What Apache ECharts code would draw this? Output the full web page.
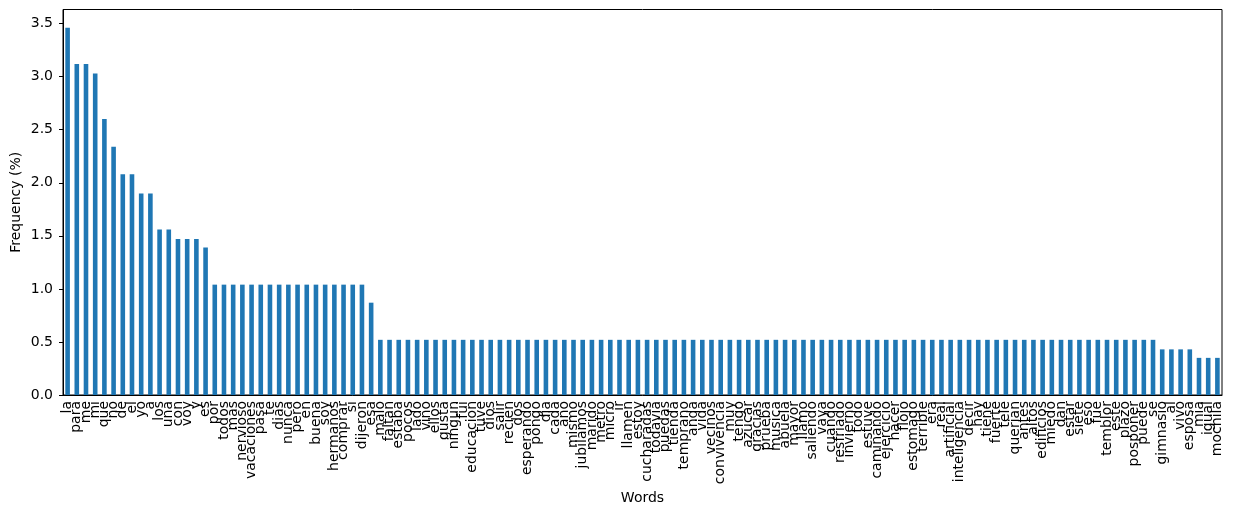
<!DOCTYPE html>
<html>
<head>
<meta charset="utf-8">
<script src="https://cdn.jsdelivr.net/npm/echarts@6/dist/echarts.min.js"></script>
<style>
  html, body { margin: 0; padding: 0; background: #fff; }
  #chart { width: 1236px; height: 516px; }
</style>
</head>
<body>
<div id="chart"></div>
<script>
const words = [
  'la', 'para', 'me', 'mi', 'que', 'no', 'de', 'el', 'yo', 'a',
  'los', 'una', 'con', 'voy', 'y', 'es', 'por', 'todos', 'mas', 'nervioso',
  'vacaciones', 'pasa', 'te', 'dias', 'nunca', 'pero', 'en', 'buena', 'soy', 'hermanos',
  'comprar', 'si', 'dijeron', 'esa', 'malo', 'faltan', 'estaba', 'pocos', 'lado', 'vino',
  'ellos', 'gusta', 'ningun', 'fui', 'educacion', 'tuve', 'dios', 'salir', 'recien', 'dos',
  'esperando', 'pongo', 'dia', 'cada', 'ano', 'mismo', 'jubilamos', 'marido', 'metro', 'micro',
  'ir', 'llamen', 'estoy', 'cucharadas', 'todavia', 'puedas', 'tienda', 'temprano', 'anda', 'vida',
  'vecinos', 'convivencia', 'muy', 'tengo', 'azucar', 'gracias', 'prueba', 'musica', 'abuela', 'mayor',
  'llamo', 'saliendo', 'vaya', 'cuando', 'resfriado', 'invierno', 'todo', 'estuve', 'caminando', 'ejercicio',
  'hacer', 'flojo', 'estomago', 'terrible', 'era', 'real', 'artificial', 'inteligencia', 'decir', 'hay',
  'tiene', 'fuerte', 'tele', 'querian', 'antes', 'altos', 'edificios', 'miedo', 'dan', 'estar',
  'siete', 'eso', 'fue', 'temblor', 'este', 'plazo', 'posponer', 'puede', 'se', 'gimnasio',
  'al', 'vivo', 'esposa', 'mia', 'igual', 'mochila'
]

// frequency in percent
const topFreq = [3.46, 3.12, 3.12, 3.03, 2.60, 2.34, 2.08, 2.08, 1.90, 1.90,
                 1.56, 1.56, 1.47, 1.47, 1.47, 1.39]
const midFreq = [1.04, 1.04, 1.04, 1.04, 1.04, 1.04, 1.04, 1.04, 1.04, 1.04,
                 1.04, 1.04, 1.04, 1.04, 1.04, 1.04, 1.04, 0.87]
const lowFreq = [
  0.52, 0.52, 0.52, 0.52, 0.52, 0.52, 0.52, 0.52, 0.52, 0.52,
  0.52, 0.52, 0.52, 0.52, 0.52, 0.52, 0.52, 0.52, 0.52, 0.52,
  0.52, 0.52, 0.52, 0.52, 0.52, 0.52, 0.52, 0.52, 0.52, 0.52,
  0.52, 0.52, 0.52, 0.52, 0.52, 0.52, 0.52, 0.52, 0.52, 0.52,
  0.52, 0.52, 0.52, 0.52, 0.52, 0.52, 0.52, 0.52, 0.52, 0.52,
  0.52, 0.52, 0.52, 0.52, 0.52, 0.52, 0.52, 0.52, 0.52, 0.52,
  0.52, 0.52, 0.52, 0.52, 0.52, 0.52, 0.52, 0.52, 0.52, 0.52,
  0.52, 0.52, 0.52, 0.52, 0.52, 0.52, 0.52, 0.52, 0.52, 0.52,
  0.52, 0.52, 0.52, 0.52, 0.52,
  0.43, 0.43, 0.43, 0.43,
  0.35, 0.35, 0.35
]
const freq = topFreq.concat(midFreq, lowFreq)

const yTicks = [0, 0.5, 1.0, 1.5, 2.0, 2.5, 3.0, 3.5]

const font = 'DejaVu Sans'

const chart = echarts.init(document.getElementById('chart'))

const option = {
  animation: false,
  grid: {
    left: 63,
    right: 14,
    top: 9.5,
    bottom: 121,
    outerBoundsMode: 'none',
    containLabel: false,
    show: true,
    borderColor: '#000',
    borderWidth: 1,
    backgroundColor: 'transparent'
  },
  xAxis: {
    type: 'category',
    data: words,
    name: 'Words',
    nameLocation: 'middle',
    nameGap: 96,
    nameMoveOverlap: false,
    nameTextStyle: { fontFamily: font, fontSize: 14, color: '#000' },
    axisLine: { lineStyle: { color: '#000', width: 1 } },
    axisTick: { alignWithLabel: true, interval: 0, length: 4, lineStyle: { color: '#000' } },
    axisLabel: {
      interval: 0,
      rotate: 90,
      fontFamily: font,
      fontSize: 14,
      color: '#000',
      margin: 6
    },
    splitLine: { show: false }
  },
  yAxis: {
    type: 'value',
    min: 0,
    max: 3.633,
    name: 'Frequency (%)',
    nameLocation: 'middle',
    nameGap: 40,
    nameMoveOverlap: false,
    nameTextStyle: { fontFamily: font, fontSize: 14, color: '#000' },
    axisLine: { show: true, lineStyle: { color: '#000', width: 1 } },
    axisTick: { show: true, length: 4, customValues: yTicks, lineStyle: { color: '#000' } },
    axisLabel: {
      customValues: yTicks,
      formatter: v => v.toFixed(1),
      fontFamily: font,
      fontSize: 14,
      color: '#000',
      margin: 10
    },
    splitLine: { show: false }
  },
  series: [
    {
      type: 'bar',
      data: freq,
      barWidth: '50%',
      itemStyle: { color: '#1f77b4' }
    }
  ]
}

chart.setOption(option)
</script>
</body>
</html>
